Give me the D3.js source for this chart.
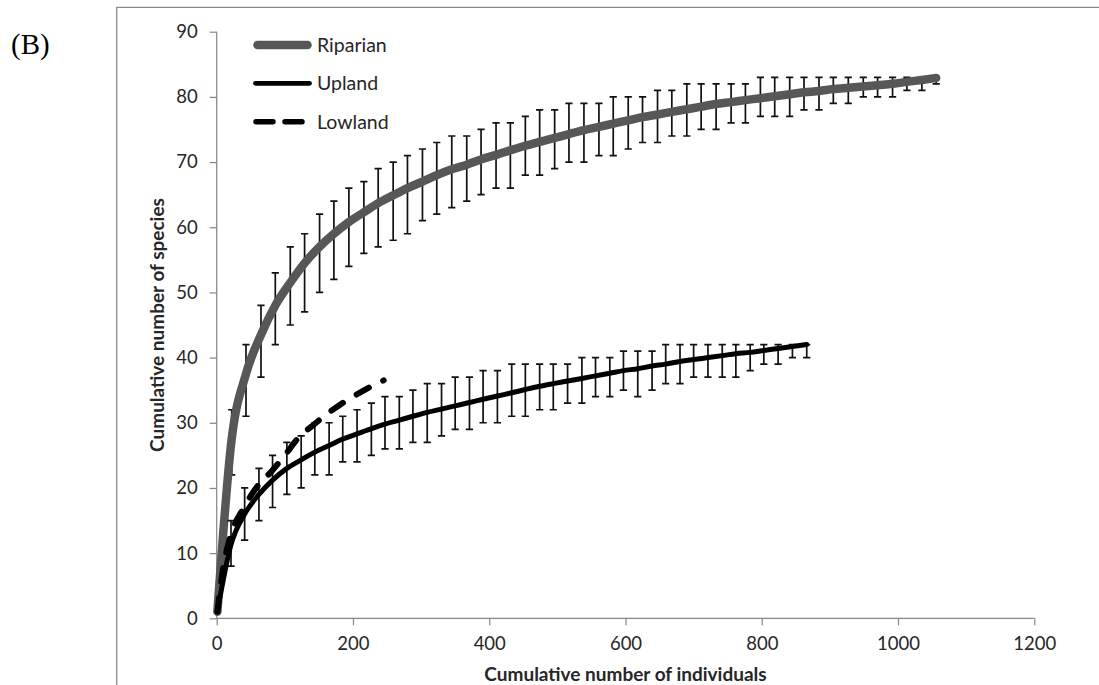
<!DOCTYPE html>
<html><head><meta charset="utf-8">
<script src="https://cdn.jsdelivr.net/npm/d3@7"></script>
<style>body{margin:0;background:#fff}svg{display:block}</style>
</head><body>
<svg id="c" width="1099" height="685"></svg>
<script>
// ---- data ----
const xTicks = [0, 200, 400, 600, 800, 1000, 1200];
const yTicks = [0, 10, 20, 30, 40, 50, 60, 70, 80, 90];
const seriesNames = ["Riparian", "Upland", "Lowland"];

const ripX = [1,22,43,65,86,108,129,151,172,194,216,237,259,280,302,323,345,367,388,410,431,453,474,496,517,539,561,582,604,625,647,668,690,711,733,755,776,798,819,841,862,884,905,927,949,970,992,1013,1035,1056];
const ripMean = [1,27.5,37.5,43.5,48,51.5,54.5,57,59,60.8,62.3,63.7,64.9,66,67,68,68.9,69.6,70.4,71.1,71.8,72.5,73.1,73.7,74.3,74.9,75.4,75.9,76.4,76.9,77.3,77.7,78.1,78.5,78.9,79.2,79.5,79.8,80.1,80.4,80.7,80.9,81.2,81.4,81.6,81.8,82.0,82.3,82.6,82.9];
const ripLow  = [null,22,31,37,42,45,47,50,52,54,56,57,58,59,61,62,63,64,65,66,66,68,68,69,70,70,71,71,72,73,73,74,74,75,75,76,76,77,77,77,78,78,79,79,80,80,80,81,81,82];
const ripHigh = [null,32,42,48,53,57,59,62,64,66,67,69,70,71,72,73,74,74,75,76,76,77,78,78,79,79,79,80,80,80,81,81,82,82,82,82,82,83,83,83,83,83,83,83,83,83,83,83,83,83];

const upX = [1,21,41,62,82,103,124,144,165,185,206,227,247,268,288,309,330,350,371,391,412,433,453,474,494,515,536,556,577,597,618,639,659,680,700,721,742,762,783,803,824,845,866];
const upMean = [1,11.3,16,19,21.2,23,24.3,25.5,26.5,27.5,28.3,29.1,29.8,30.4,31,31.6,32.1,32.6,33.1,33.6,34.1,34.6,35.1,35.6,36,36.4,36.8,37.2,37.6,38,38.3,38.7,39,39.4,39.7,40,40.3,40.6,40.8,41.1,41.4,41.7,42];
const upLow  = [null,8,12,15,17,19,20,22,22,24,24,25,26,26,27,27,28,29,29,30,30,31,31,32,32,33,33,34,34,35,34,35,36,36,37,37,37,37,38,39,39,40,40];
const upHigh = [null,15,20,23,25,27,28,30,30,31,32,33,34,34,35,36,36,37,37,38,38,39,39,39,39,39,40,40,40,41,41,41,42,42,42,42,42,42,42,42,42,42,42];

const lowX = [1,10,20,40,60,80,100,120,140,160,180,200,220,245];
const lowMean = [1,8,12.5,17,20.3,22.5,25,27.7,29.5,31.2,32.7,34,35.2,36.5];

// ---- drawing ----
const svg = d3.select("#c");
const x = d3.scaleLinear().domain([0, 1200]).range([216.7, 1034.3]);
const y = d3.scaleLinear().domain([0, 90]).range([618.3, 31.7]);
const axisColor = "#868686";
const textColor = "#262626";
const font = "Lato, 'Open Sans', sans-serif";

// outer frame (cropped on right/bottom)
svg.append("path").attr("d", "M1110,7.3 H116.7 V700")
  .attr("fill", "none").attr("stroke", "#8a8a8a").attr("stroke-width", 1.3);

svg.append("text").attr("x", 11).attr("y", 53.5)
  .attr("font-family", "'Liberation Serif', 'Times New Roman', serif")
  .attr("font-size", 29).attr("fill", "#000").text("(B)");

// axes
const gx = svg.append("g").attr("transform", `translate(0,${y(0)})`)
  .call(d3.axisBottom(x).tickValues(xTicks).tickSize(7).tickPadding(12).tickFormat(d3.format("d")));
const gy = svg.append("g").attr("transform", `translate(${x(0)},0)`)
  .call(d3.axisLeft(y).tickValues(yTicks).tickSize(7).tickPadding(12).tickFormat(d3.format("d")));
[gx, gy].forEach(g => {
  g.select(".domain").attr("stroke", axisColor).attr("stroke-width", 1.2);
  g.selectAll(".tick line").attr("stroke", axisColor).attr("stroke-width", 1.2);
  g.selectAll(".tick text").attr("fill", textColor).attr("font-family", font).attr("font-size", 18.5);
});
gy.select(".domain").attr("d", `M-0,${y(0)}V${y(90)}`);
gx.select(".domain").attr("d", `M${x(0)},0H${x(1200)}`);

// axis titles
svg.append("text").attr("x", 625.5).attr("y", 681)
  .attr("text-anchor", "middle").attr("font-family", font).attr("font-weight", "bold")
  .attr("font-size", 19).attr("fill", textColor).text("Cumulative number of individuals");
svg.append("text").attr("transform", "translate(163.5,325) rotate(-90)")
  .attr("text-anchor", "middle").attr("font-family", font).attr("font-weight", "bold")
  .attr("font-size", 19).attr("fill", textColor).text("Cumulative number of species");

const line = d3.line().curve(d3.curveMonotoneX).x(d => x(d[0])).y(d => y(d[1]));
const capW = 3.6;

function errorBars(xs, lo, hi, color) {
  const g = svg.append("g").attr("stroke", color).attr("stroke-width", 1.7).attr("fill", "none");
  xs.forEach((xv, i) => {
    if (lo[i] == null) return;
    const px = x(xv), y1 = y(lo[i]), y2 = y(hi[i]);
    g.append("path").attr("d", `M${px},${y1}V${y2}M${px - capW},${y1}H${px + capW}M${px - capW},${y2}H${px + capW}`);
  });
}

// Riparian
errorBars(ripX, ripLow, ripHigh, "#111");
svg.append("path").datum(ripX.map((v, i) => [v, ripMean[i]])).attr("d", line)
  .attr("fill", "none").attr("stroke", "#575757").attr("stroke-width", 8.5).attr("stroke-linecap", "round");

// Upland
errorBars(upX, upLow, upHigh, "#111");
svg.append("path").datum(upX.map((v, i) => [v, upMean[i]])).attr("d", line)
  .attr("fill", "none").attr("stroke", "#000").attr("stroke-width", 5).attr("stroke-linecap", "round");

// Lowland
svg.append("path").datum(lowX.map((v, i) => [v, lowMean[i]])).attr("d", line)
  .attr("fill", "none").attr("stroke", "#000").attr("stroke-width", 6)
  .attr("stroke-dasharray", "14,16").attr("stroke-linecap", "round");

// legend
const legY = [45, 83.3, 121.7];
const leg = svg.append("g");
leg.append("line").attr("x1", 257.5).attr("x2", 307.5).attr("y1", legY[0]).attr("y2", legY[0])
  .attr("stroke", "#575757").attr("stroke-width", 8.5).attr("stroke-linecap", "round");
leg.append("line").attr("x1", 255.5).attr("x2", 309.5).attr("y1", legY[1]).attr("y2", legY[1])
  .attr("stroke", "#000").attr("stroke-width", 4.8).attr("stroke-linecap", "round");
leg.append("line").attr("x1", 256).attr("x2", 302).attr("y1", legY[2]).attr("y2", legY[2])
  .attr("stroke", "#000").attr("stroke-width", 5.5).attr("stroke-linecap", "round")
  .attr("stroke-dasharray", "17,12");
seriesNames.forEach((n, i) => {
  leg.append("text").attr("x", 317).attr("y", legY[i]).attr("dy", "0.36em")
    .attr("font-family", font).attr("font-size", 19.5).attr("fill", textColor).text(n);
});
</script>
</body></html>
